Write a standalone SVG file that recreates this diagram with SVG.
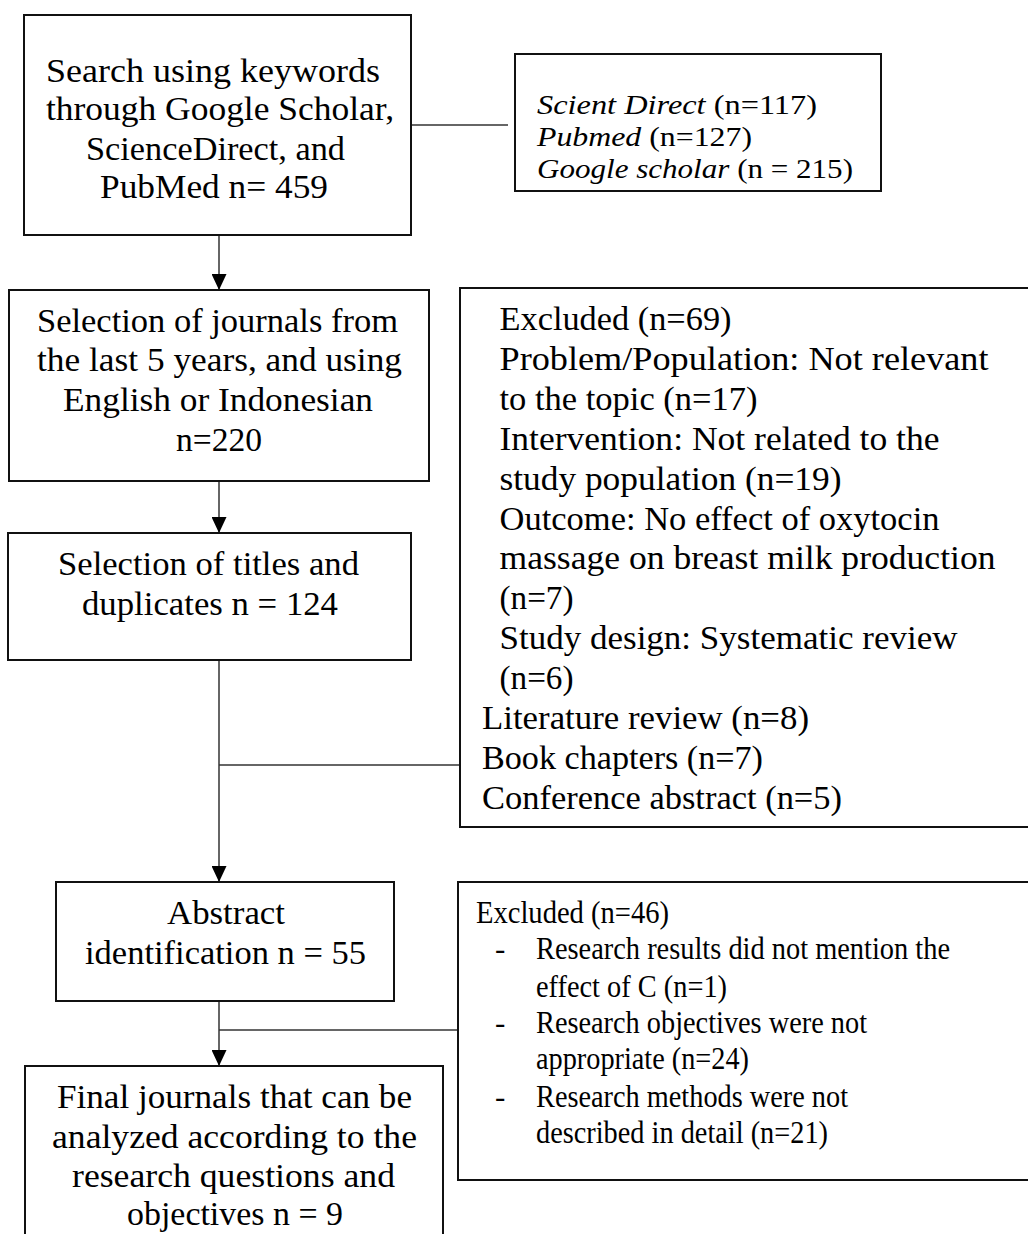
<svg xmlns="http://www.w3.org/2000/svg" width="1028" height="1234" viewBox="0 0 1028 1234">
<style>
.box{fill:#fff;stroke:#111;stroke-width:2}
.t{font-family:"Liberation Serif","Times New Roman",serif;font-size:33px;fill:#000}
.t2{font-family:"Liberation Serif","Times New Roman",serif;font-size:28px;fill:#000}
.tt{font-family:"Liberation Serif","Times New Roman",serif;font-size:31px;fill:#000}
.i{font-style:italic}
.c{fill:none;stroke:#333;stroke-width:1.5}
</style>
<defs>
<marker id="ah" markerUnits="userSpaceOnUse" markerWidth="16" markerHeight="15" refX="16" refY="7.5" orient="auto">
<path d="M0,0 L16,7.5 L0,15 z" fill="#000"/>
</marker>
</defs>
<rect width="1028" height="1234" fill="#fff"/>
<g id="connectors">
<line class="c" x1="219" y1="235" x2="219" y2="290" marker-end="url(#ah)"/>
<line class="c" x1="219" y1="481" x2="219" y2="533" marker-end="url(#ah)"/>
<line class="c" x1="219" y1="660" x2="219" y2="882" marker-end="url(#ah)"/>
<line class="c" x1="219" y1="1001" x2="219" y2="1066" marker-end="url(#ah)"/>
<line class="c" x1="411" y1="125" x2="508" y2="125"/>
<line class="c" x1="219" y1="765" x2="460" y2="765"/>
<line class="c" x1="219" y1="1030" x2="458" y2="1030"/>
</g>
<g id="search">
<rect class="box" x="24" y="15" width="387" height="220"/>
<text class="t" x="46" y="82" textLength="334" lengthAdjust="spacingAndGlyphs">Search using keywords</text>
<text class="t" x="46" y="120" textLength="348" lengthAdjust="spacingAndGlyphs">through Google Scholar,</text>
<text class="t" x="86" y="160" textLength="259" lengthAdjust="spacingAndGlyphs">ScienceDirect, and</text>
<text class="t" x="100" y="198" textLength="228" lengthAdjust="spacingAndGlyphs">PubMed n= 459</text>
</g>
<g id="sources">
<rect class="box" x="515" y="54" width="366" height="137"/>
<text class="t2" x="537" y="114" textLength="280" lengthAdjust="spacingAndGlyphs"><tspan class="i">Scient Direct</tspan> (n=117)</text>
<text class="t2" x="537" y="146" textLength="215" lengthAdjust="spacingAndGlyphs"><tspan class="i">Pubmed</tspan> (n=127)</text>
<text class="t2" x="537" y="178" textLength="316" lengthAdjust="spacingAndGlyphs"><tspan class="i">Google scholar</tspan> (n = 215)</text>
</g>
<g id="selection-journals">
<rect class="box" x="9" y="290" width="420" height="191"/>
<text class="t" x="37" y="332" textLength="361" lengthAdjust="spacingAndGlyphs">Selection of journals from</text>
<text class="t" x="37" y="371" textLength="365" lengthAdjust="spacingAndGlyphs">the last 5 years, and using</text>
<text class="t" x="63" y="411" textLength="310" lengthAdjust="spacingAndGlyphs">English or Indonesian</text>
<text class="t" x="176" y="451" textLength="86" lengthAdjust="spacingAndGlyphs">n=220</text>
</g>
<g id="selection-titles">
<rect class="box" x="8" y="533" width="403" height="127"/>
<text class="t" x="58" y="575" textLength="301" lengthAdjust="spacingAndGlyphs">Selection of titles and</text>
<text class="t" x="82" y="615" textLength="256" lengthAdjust="spacingAndGlyphs">duplicates n = 124</text>
</g>
<g id="excluded-69">
<rect class="box" x="460" y="288" width="600" height="539"/>
<text class="t" x="499.5" y="330" textLength="232" lengthAdjust="spacingAndGlyphs">Excluded (n=69)</text>
<text class="t" x="499.5" y="370" textLength="489" lengthAdjust="spacingAndGlyphs">Problem/Population: Not relevant</text>
<text class="t" x="499.5" y="410" textLength="258" lengthAdjust="spacingAndGlyphs">to the topic (n=17)</text>
<text class="t" x="499.5" y="450" textLength="440" lengthAdjust="spacingAndGlyphs">Intervention: Not related to the</text>
<text class="t" x="499.5" y="490" textLength="342" lengthAdjust="spacingAndGlyphs">study population (n=19)</text>
<text class="t" x="499.5" y="530" textLength="440" lengthAdjust="spacingAndGlyphs">Outcome: No effect of oxytocin</text>
<text class="t" x="499.5" y="569" textLength="496" lengthAdjust="spacingAndGlyphs">massage on breast milk production</text>
<text class="t" x="499.5" y="609" textLength="74" lengthAdjust="spacingAndGlyphs">(n=7)</text>
<text class="t" x="499.5" y="649" textLength="458" lengthAdjust="spacingAndGlyphs">Study design: Systematic review</text>
<text class="t" x="499.5" y="689" textLength="74" lengthAdjust="spacingAndGlyphs">(n=6)</text>
<text class="t" x="482" y="729" textLength="327" lengthAdjust="spacingAndGlyphs">Literature review (n=8)</text>
<text class="t" x="482" y="769" textLength="281" lengthAdjust="spacingAndGlyphs">Book chapters (n=7)</text>
<text class="t" x="482" y="809" textLength="360" lengthAdjust="spacingAndGlyphs">Conference abstract (n=5)</text>
</g>
<g id="abstract">
<rect class="box" x="56" y="882" width="338" height="119"/>
<text class="t" x="167" y="924" textLength="118" lengthAdjust="spacingAndGlyphs">Abstract</text>
<text class="t" x="85" y="964" textLength="281" lengthAdjust="spacingAndGlyphs">identification n = 55</text>
</g>
<g id="excluded-46">
<rect class="box" x="458" y="882" width="600" height="298"/>
<text class="tt" x="476" y="923" textLength="193" lengthAdjust="spacingAndGlyphs">Excluded (n=46)</text>
<text class="tt" x="495" y="959">-</text>
<text class="tt" x="536" y="959" textLength="414" lengthAdjust="spacingAndGlyphs">Research results did not mention the</text>
<text class="tt" x="536" y="997" textLength="191" lengthAdjust="spacingAndGlyphs">effect of C (n=1)</text>
<text class="tt" x="495" y="1033">-</text>
<text class="tt" x="536" y="1033" textLength="331" lengthAdjust="spacingAndGlyphs">Research objectives were not</text>
<text class="tt" x="536" y="1069" textLength="213" lengthAdjust="spacingAndGlyphs">appropriate (n=24)</text>
<text class="tt" x="495" y="1107">-</text>
<text class="tt" x="536" y="1107" textLength="312" lengthAdjust="spacingAndGlyphs">Research methods were not</text>
<text class="tt" x="536" y="1143" textLength="292" lengthAdjust="spacingAndGlyphs">described in detail (n=21)</text>
</g>
<g id="final">
<rect class="box" x="25" y="1066" width="418" height="200"/>
<text class="t" x="57" y="1108" textLength="355" lengthAdjust="spacingAndGlyphs">Final journals that can be</text>
<text class="t" x="52" y="1148" textLength="365" lengthAdjust="spacingAndGlyphs">analyzed according to the</text>
<text class="t" x="72" y="1187" textLength="323" lengthAdjust="spacingAndGlyphs">research questions and</text>
<text class="t" x="127" y="1225" textLength="216" lengthAdjust="spacingAndGlyphs">objectives n = 9</text>
</g>
</svg>
